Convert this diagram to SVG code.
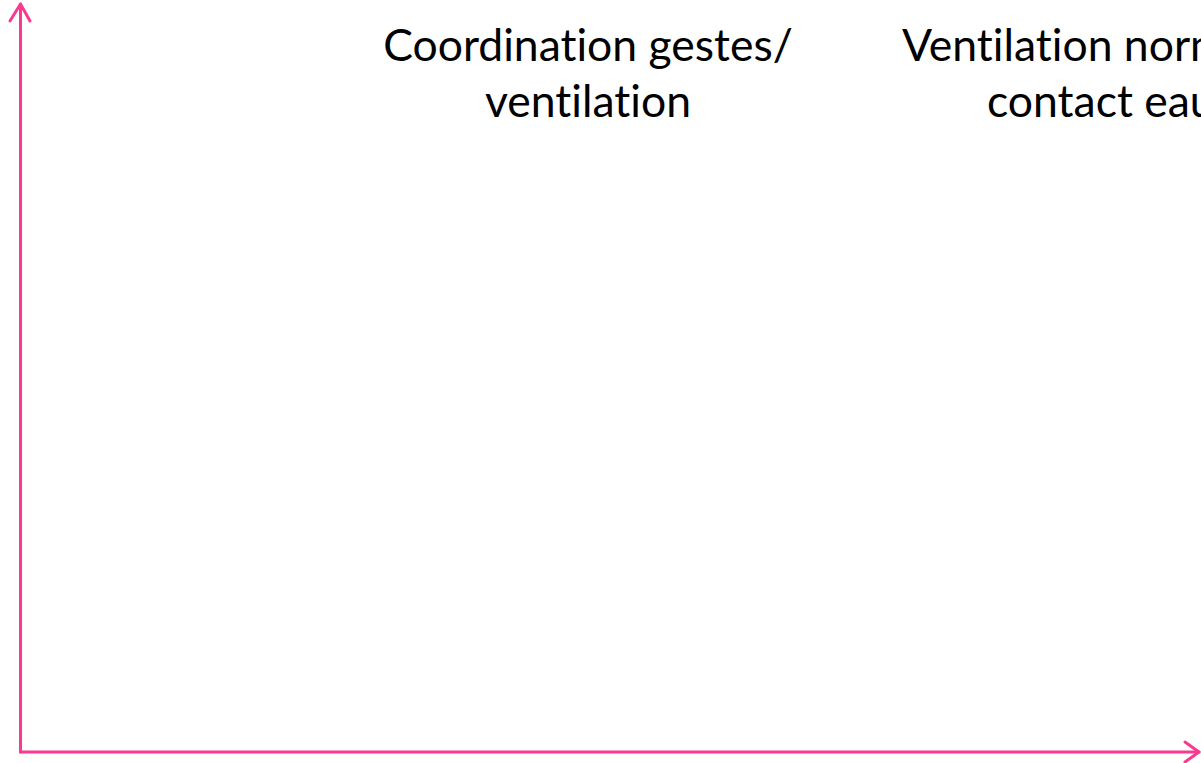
<svg xmlns="http://www.w3.org/2000/svg" width="1201" height="763" viewBox="0 0 1201 763">
<style>
.axis{fill:none;stroke:#FA3A92;stroke-width:3;stroke-linecap:round;stroke-linejoin:round}
.lbl{font-family:"Lato","Open Sans","Liberation Sans",sans-serif;font-size:44.5px;fill:#000;font-variant-ligatures:none;font-feature-settings:"liga" 0}
</style>
<rect width="1201" height="763" fill="#fff"/>
<g id="connectors">
<path class="axis" d="M20.5 752 V4"/>
<path class="axis" d="M10 21 L20.5 4 L30 21"/>
<path class="axis" d="M20.5 752 H1199"/>
<path class="axis" d="M1185 742 L1199 752 L1185 762"/>
</g>
<g id="n1">
<text class="lbl" x="588" y="61" text-anchor="middle">Coordination gestes/</text>
<text class="lbl" x="588" y="117" text-anchor="middle">ventilation</text>
</g>
<g id="n2">
<text class="lbl" x="902" y="61">Ventilation normale</text>
<text class="lbl" x="987" y="117">contact eau</text>
</g>
</svg>
